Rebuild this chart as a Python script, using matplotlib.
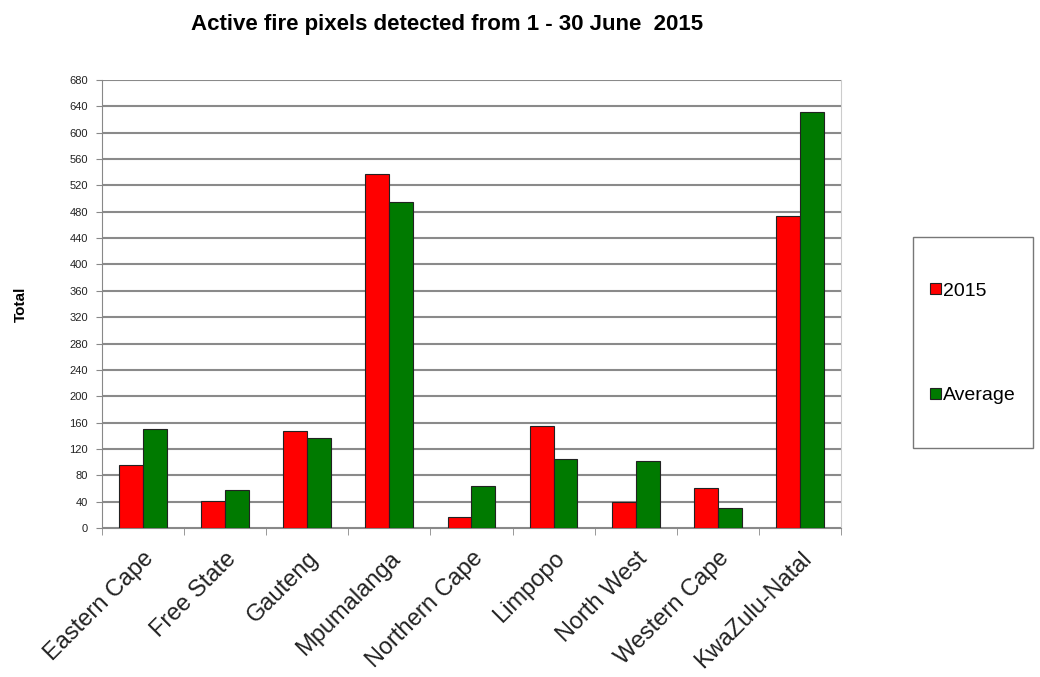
import matplotlib.pyplot as plt
from matplotlib.patches import Rectangle
import numpy as np

plt.rcParams['font.family'] = ['Liberation Sans', 'DejaVu Sans']

provinces = ["Eastern Cape", "Free State", "Gauteng", "Mpumalanga", "Northern Cape",
             "Limpopo", "North West", "Western Cape", "KwaZulu-Natal"]
fires_2015 = [96, 41, 147, 537, 17, 155, 39, 61, 473]
fires_avg = [150, 58, 137, 494, 64, 105, 101, 31, 632]

fig = plt.figure(figsize=(10.4, 6.77), dpi=100)
ax = fig.add_axes([0.0978, 0.220, 0.711, 0.662])

x = np.arange(len(provinces))
w = 0.29
ax.bar(x - w/2, fires_2015, w, color="#ff0000", edgecolor="#222222", linewidth=0.8,
       label="2015", zorder=3)
ax.bar(x + w/2, fires_avg, w, color="#007a00", edgecolor="#222222", linewidth=0.8,
       label="Average", zorder=3)

ax.set_xlim(-0.5, len(provinces) - 0.5)
ax.set_ylim(0, 680)
ax.set_yticks(np.arange(0, 681, 40))
ax.tick_params(axis='y', labelsize=8, length=4, color="#888888", labelcolor="#222222", pad=6)

ax.set_xticks(x)
ax.set_xticklabels(provinces, rotation=45, ha='right', va='top', rotation_mode='anchor',
                   fontsize=17, color="#222222")
ax.tick_params(axis='x', length=0, pad=14)
ax.set_xticks(np.arange(-0.5, len(provinces), 1), minor=True)
ax.tick_params(axis='x', which='minor', length=5, color="#888888")

ax.yaxis.grid(True, color="#8a8a8a", linewidth=1.5, zorder=0)
ax.spines["top"].set_visible(False)
ax.spines["right"].set_color("#cccccc")
ax.spines["left"].set_color("#888888")
ax.spines["bottom"].set_color("#888888")

ax.set_ylabel("Total", fontsize=11, fontweight='bold', labelpad=30)
fig.suptitle("Active fire pixels detected from 1 - 30 June  2015", x=0.43, y=0.98,
             fontsize=16, fontweight='bold')

# legend box
fig.patches.append(Rectangle((913/1040, 1 - 448/677), 120/1040, 211/677,
                             transform=fig.transFigure, fill=False,
                             edgecolor="#777777", linewidth=1))
h, l = ax.get_legend_handles_labels()
fig.legend(h[:1], l[:1], loc='center left', bbox_to_anchor=(930/1040, 1 - 291/677),
           frameon=False, fontsize=14, handlelength=0.55, handleheight=0.55,
           handletextpad=0.1, borderaxespad=0, borderpad=0)
fig.legend(h[1:], l[1:], loc='center left', bbox_to_anchor=(930/1040, 1 - 396/677),
           frameon=False, fontsize=14, handlelength=0.55, handleheight=0.55,
           handletextpad=0.1, borderaxespad=0, borderpad=0)

fig.savefig("out.png", dpi=100)
